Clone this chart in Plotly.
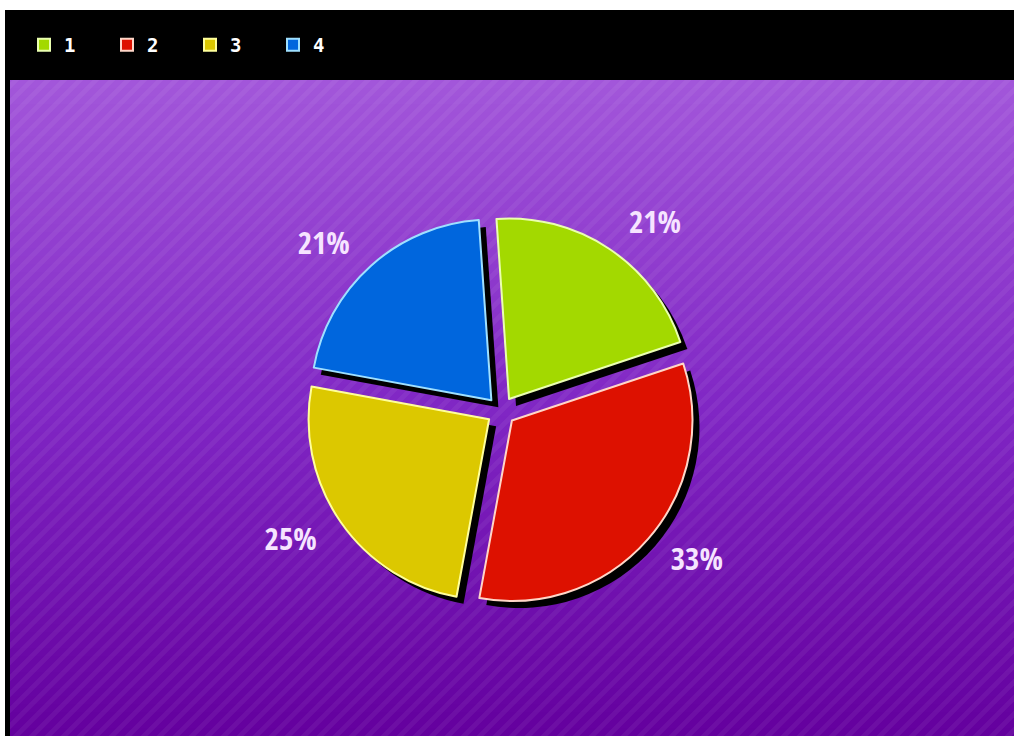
import plotly.graph_objects as go

# ---- data ----
labels = ["1", "2", "3", "4"]
values = [21, 33, 25, 21]
slice_colors = ["#a3d900", "#dd1100", "#dcc800", "#0066dd"]
edge_colors = ["#eaffb0", "#ffd6c8", "#ffff9a", "#9fe0ff"]

W, H = 1014, 738


def px(x):
    return x / W


def py(y):
    return 1 - y / H


# pie geometry (pixels)
cx, cy = 501, 411
half = 195          # half of the pulled pie's extent
label_half = 211    # label ring slightly outside the pie
label_pull = 0.08
shadow_dx, shadow_dy = 7, 7
pull = 0.08
rotation = -4

fig = go.Figure()


def dom(h, dx=0, dy=0):
    return dict(x=[px(cx - h + dx), px(cx + h + dx)],
                y=[py(cy + h + dy), py(cy - h + dy)])


# drop shadow pie
fig.add_trace(go.Pie(
    labels=labels, values=values, sort=False, direction="clockwise",
    rotation=rotation, pull=pull,
    marker=dict(colors=["#000000"] * len(values), line=dict(width=0)),
    textinfo="none", hoverinfo="skip", showlegend=False,
    domain=dom(half, shadow_dx, shadow_dy),
))

# main pie
fig.add_trace(go.Pie(
    labels=labels, values=values, sort=False, direction="clockwise",
    rotation=rotation, pull=pull,
    marker=dict(colors=slice_colors, line=dict(color=edge_colors, width=2)),
    textinfo="none", showlegend=True,
    domain=dom(half),
))

# transparent ring carrying the outside percentage labels
fig.add_trace(go.Pie(
    labels=labels, values=values, sort=False, direction="clockwise",
    rotation=rotation, pull=label_pull,
    marker=dict(colors=["rgba(0,0,0,0)"] * len(values), line=dict(width=0)),
    textinfo="percent", textposition="outside", hoverinfo="skip", showlegend=False,
    outsidetextfont=dict(family="Open Sans Condensed, Roboto Condensed, DejaVu Sans Condensed, Roboto",
                         size=31, color="#f6e4ff", weight="bold"),
    domain=dom(label_half),
))

shapes = []
# purple vertical gradient (background decoration), three colour stops
stops = [(0.0, (162, 86, 218)), (0.5, (128, 38, 196)), (1.0, (100, 0, 158))]


def grad(t):
    for (t0, c0), (t1, c1) in zip(stops[:-1], stops[1:]):
        if t <= t1:
            f = (t - t0) / (t1 - t0)
            return tuple(int(round(c0[k] + (c1[k] - c0[k]) * f)) for k in range(3))
    return stops[-1][1]


y0, y1 = 80, 736
n = 82
for i in range(n):
    a = y0 + (y1 - y0) * i / n
    b = y0 + (y1 - y0) * (i + 1) / n + 1
    c = grad(i / (n - 1))
    shapes.append(dict(type="rect", xref="paper", yref="paper", layer="below",
                       x0=px(10), x1=px(W), y0=py(b), y1=py(a),
                       fillcolor="rgb(%d,%d,%d)" % c, line=dict(width=0)))
# diagonal stripes
step = 16
for s in range(-H, W + H, step):
    shapes.append(dict(type="line", xref="paper", yref="paper", layer="below",
                       x0=px(s), y0=py(H), x1=px(s + H), y1=py(0),
                       line=dict(color="rgba(255,255,255,0.055)", width=5)))
# frame: black header bar and left strip, white outer edges
shapes.append(dict(type="rect", xref="paper", yref="paper", layer="below",
                   x0=px(5), x1=px(W), y0=py(80), y1=py(10),
                   fillcolor="#000000", line=dict(width=0)))
shapes.append(dict(type="rect", xref="paper", yref="paper", layer="below",
                   x0=px(5), x1=px(10), y0=py(736), y1=py(10),
                   fillcolor="#000000", line=dict(width=0)))
shapes.append(dict(type="rect", xref="paper", yref="paper", layer="below",
                   x0=0, x1=1, y0=py(10), y1=1,
                   fillcolor="#ffffff", line=dict(width=0)))
shapes.append(dict(type="rect", xref="paper", yref="paper", layer="below",
                   x0=0, x1=px(5), y0=0, y1=1,
                   fillcolor="#ffffff", line=dict(width=0)))
shapes.append(dict(type="rect", xref="paper", yref="paper", layer="below",
                   x0=0, x1=1, y0=0, y1=py(736),
                   fillcolor="#ffffff", line=dict(width=0)))

fig.update_layout(
    width=W, height=H,
    margin=dict(l=0, r=0, t=0, b=0),
    paper_bgcolor="#ffffff",
    shapes=shapes,
    legend=dict(orientation="h", x=px(24), y=py(45), xanchor="left", yanchor="middle",
                bgcolor="rgba(0,0,0,0)",
                font=dict(family="DejaVu Sans Mono, DejaVu Sans", size=19,
                          color="#ffffff", weight="bold"),
                entrywidth=38, entrywidthmode="pixels"),
)

fig.write_html("out.html")
